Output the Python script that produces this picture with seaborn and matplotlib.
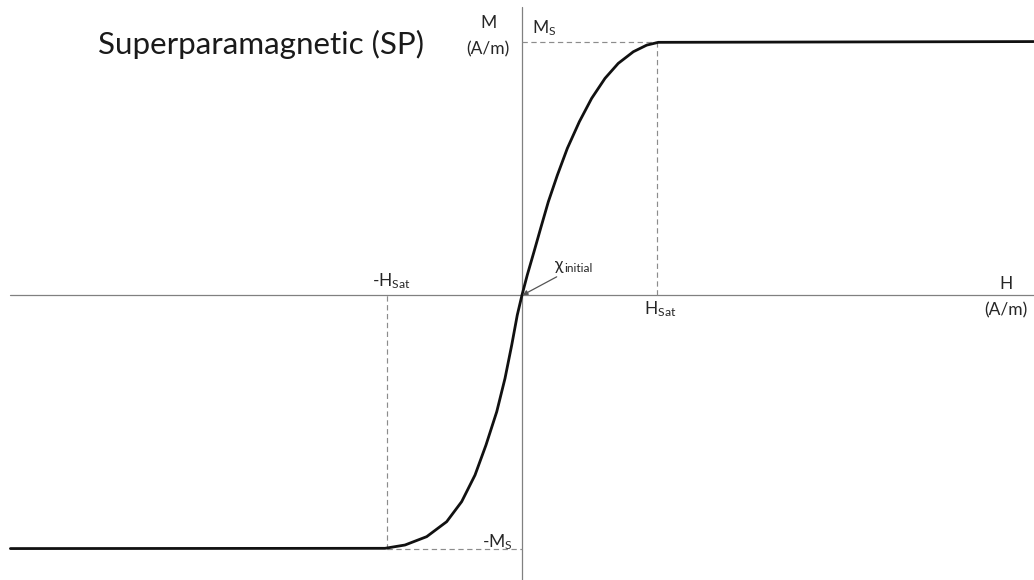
import matplotlib
matplotlib.use("Agg")
import matplotlib.pyplot as plt
import seaborn as sns
import pandas as pd

sns.set_theme(style="white")
plt.rcParams["font.family"] = ["Lato", "DejaVu Sans"]
plt.rcParams["mathtext.fontset"] = "custom"
plt.rcParams["mathtext.rm"] = "Lato"
plt.rcParams["mathtext.it"] = "Lato:italic"

# Magnetisation curve, H in units of H_sat, M in units of M_s
h_values = [-3.79, -1.015, -0.867, -0.706, -0.558, -0.447, -0.348, -0.267, -0.187,
            -0.126, -0.076, -0.035, 0.0,
            0.039, 0.089, 0.138, 0.195, 0.262, 0.336, 0.425, 0.516, 0.615, 0.713,
            0.825, 0.924, 1.01, 3.79]
m_values = [-1.0, -0.999, -0.986, -0.953, -0.894, -0.815, -0.71, -0.592, -0.46,
            -0.329, -0.197, -0.079, 0.0,
            0.079, 0.171, 0.263, 0.368, 0.473, 0.579, 0.684, 0.776, 0.855, 0.914,
            0.96, 0.986, 0.997, 1.0]

h_sat = 1.0
m_sat = 1.0

title = "Superparamagnetic (SP)"

curve = pd.DataFrame({"H": h_values, "M": m_values})

fig = plt.figure(figsize=(10.34, 5.8), dpi=100)
ax = fig.add_axes([0, 0, 1, 1])

axis_col = "#808080"
dash_col = "#8c8c8c"

# coordinate axes
ax.plot([-3.793, 3.793], [0, 0], color=axis_col, lw=0.9, zorder=1)
ax.plot([0, 0], [-1.124, 1.136], color=axis_col, lw=0.9, zorder=1)

# saturation guides
dash = dict(color=dash_col, lw=0.85, ls=(0, (4.5, 3)), zorder=1)
ax.plot([0, h_sat], [m_sat, m_sat], **dash)
ax.plot([h_sat, h_sat], [0, m_sat], **dash)
ax.plot([-h_sat, 0], [-m_sat, -m_sat], **dash)
ax.plot([-h_sat, -h_sat], [-m_sat, 0], **dash)

sns.lineplot(data=curve, x="H", y="M", sort=False, color="#111111", lw=2.0,
             ax=ax, zorder=3, legend=False)
ax.set_xlim(-3.867, 3.793)
ax.set_ylim(-1.124, 1.164)
ax.axis("off")

txt = dict(color="#262626", fontsize=12.5)
fig.text(98 / 1034, 1 - 44 / 580, title, fontsize=22.6, color="#1a1a1a",
         ha="left", va="center")

fig.text(488 / 1034, 1 - 23 / 580, "M", ha="center", va="center", **txt)
fig.text(488 / 1034, 1 - 49 / 580, "(A/m)", ha="center", va="center", **txt)
fig.text(1006 / 1034, 1 - 284 / 580, "H", ha="center", va="center", **txt)
fig.text(1006 / 1034, 1 - 310 / 580, "(A/m)", ha="center", va="center", **txt)

fig.text(532 / 1034, 1 - 28 / 580, r"$\mathregular{M_S}$", ha="left", va="center", **txt)
fig.text(513 / 1034, 1 - 542 / 580, r"-$\mathregular{M_S}$", ha="right", va="center", **txt)
fig.text(391 / 1034, 1 - 281 / 580, r"-$\mathregular{H_{Sat}}$", ha="center", va="center", **txt)
fig.text(660 / 1034, 1 - 309 / 580, r"$\mathregular{H_{Sat}}$", ha="center", va="center", **txt)

fig.text(555 / 1034, 1 - 265 / 580, "χ", ha="left", va="center", color="#262626",
         fontsize=12.5, family=["Lato", "DejaVu Sans"])
fig.text(564 / 1034, 1 - 269 / 580, "initial", ha="left", va="center",
         color="#262626", fontsize=8.5)

ax.annotate("", xy=(0.005, 0.0), xytext=(0.257, 0.072),
            arrowprops=dict(arrowstyle="-|>", color="#555555", lw=0.9,
                            mutation_scale=7, shrinkA=0, shrinkB=0), zorder=4)

fig.savefig("out.png", dpi=100)
